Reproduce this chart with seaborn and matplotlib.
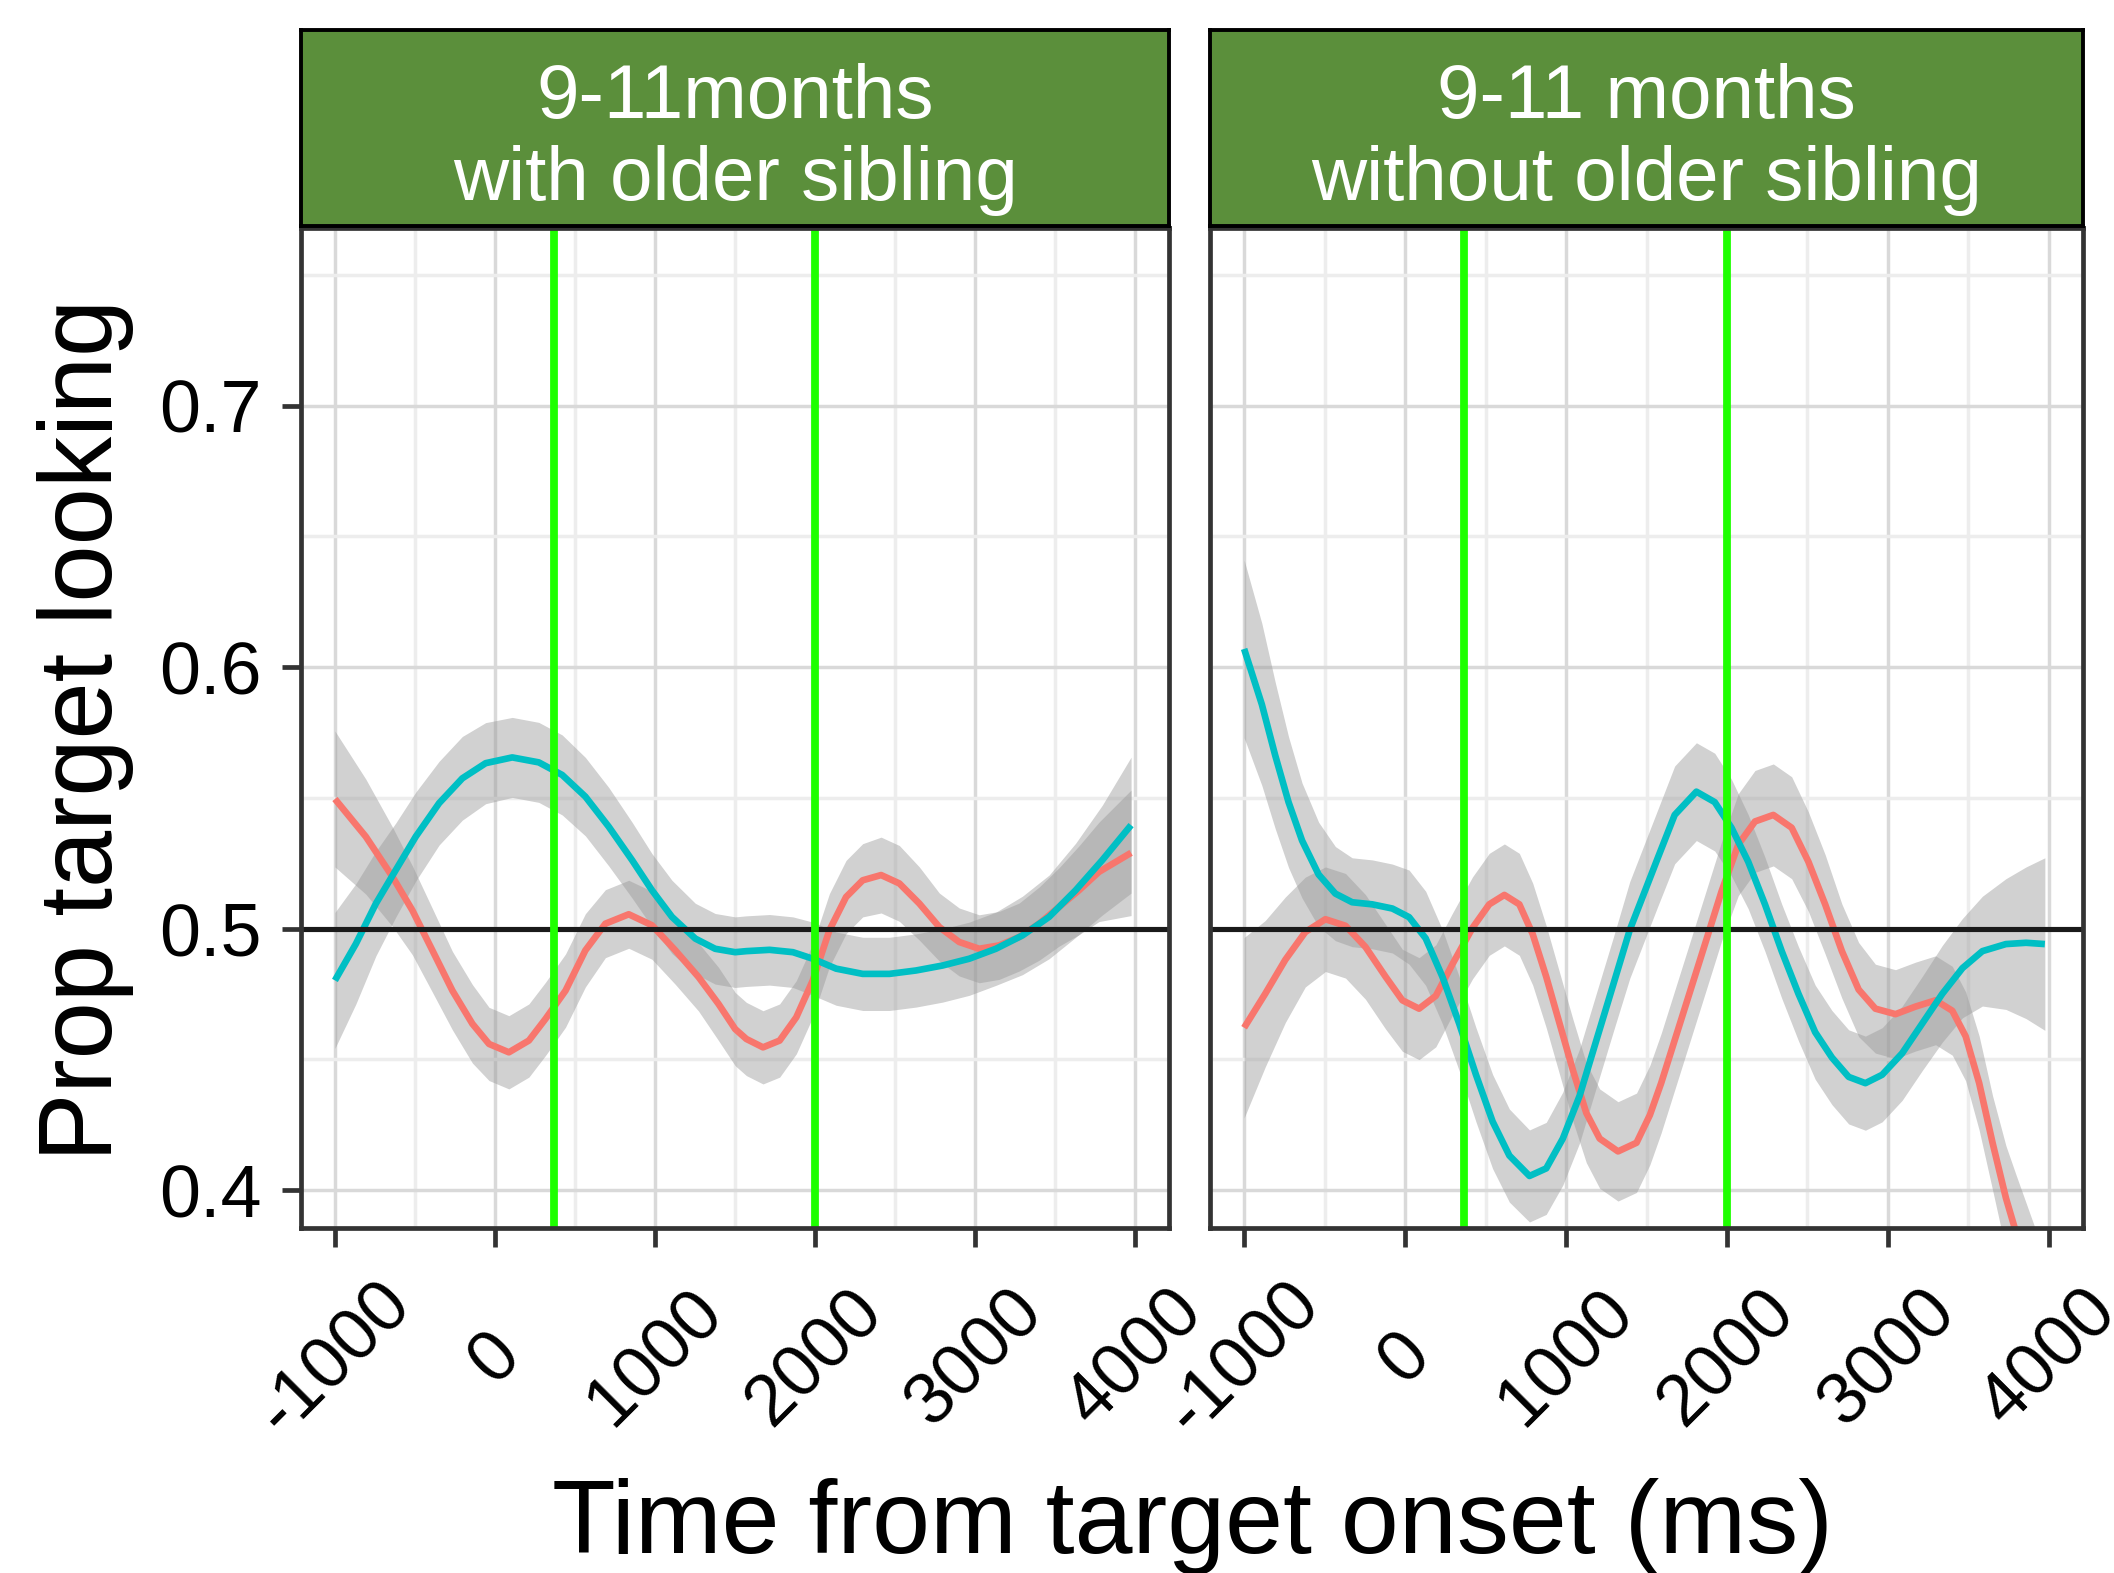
import pandas as pd
import seaborn as sns
import matplotlib.pyplot as plt

# smoothed proportion of target looking (time in ms)
# panel 1: 9-11 months with older sibling
left_red_t = [-1000, -807, -640, -516, -391, -266, -141, -37, 87, 212, 316, 441, 565, 690, 836, 981, 1127,
              1272, 1397, 1501, 1571, 1675, 1779, 1883, 1986, 2090, 2194, 2298, 2413, 2527, 2652, 2777,
              2901, 3026, 3151, 3276, 3400, 3525, 3650, 3774, 3975]
left_red_p = [0.5496, 0.5352, 0.5198, 0.507, 0.4917, 0.4763, 0.4636, 0.4559, 0.4527, 0.4572, 0.4655, 0.4763,
              0.4917, 0.5019, 0.5055, 0.5013, 0.4917, 0.4815, 0.4712, 0.4616, 0.4578, 0.4546, 0.4572, 0.4661,
              0.4802, 0.4994, 0.5121, 0.5185, 0.5205, 0.5173, 0.5096, 0.5006, 0.4949, 0.4923, 0.4936, 0.4968,
              0.5019, 0.5083, 0.5147, 0.5217, 0.529]
left_red_ci = [0.026, 0.022, 0.019, 0.017, 0.016, 0.015, 0.015, 0.014, 0.014, 0.014, 0.014, 0.014, 0.014,
               0.013, 0.013, 0.013, 0.013, 0.013, 0.014, 0.014, 0.014, 0.014, 0.014, 0.014, 0.014, 0.014,
               0.014, 0.014, 0.0145, 0.0145, 0.014, 0.013, 0.013, 0.013, 0.013, 0.013, 0.014, 0.015, 0.017,
               0.019, 0.024]

left_teal_t = [-1000, -869, -744, -620, -495, -349, -204, -58, 108, 274, 420, 565, 711, 857, 981, 1106, 1252,
               1376, 1501, 1571, 1716, 1862, 1986, 2132, 2298, 2465, 2631, 2797, 2964, 3130, 3296, 3463,
               3629, 3795, 3975]
left_teal_p = [0.4802, 0.4942, 0.5096, 0.5224, 0.5352, 0.548, 0.5575, 0.5633, 0.5655, 0.5636, 0.5588, 0.5505,
               0.539, 0.5262, 0.5147, 0.5045, 0.4962, 0.4923, 0.491, 0.4914, 0.4919, 0.491, 0.4885, 0.4847,
               0.4827, 0.4827, 0.484, 0.4859, 0.4885, 0.4923, 0.4974, 0.5045, 0.5147, 0.5262, 0.5396]
left_teal_ci = [0.026, 0.023, 0.02, 0.018, 0.017, 0.016, 0.016, 0.0155, 0.0153, 0.0153, 0.0153, 0.015, 0.015,
                0.0145, 0.014, 0.014, 0.0135, 0.0135, 0.0135, 0.0135, 0.0135, 0.0135, 0.014, 0.014, 0.014,
                0.014, 0.014, 0.014, 0.014, 0.014, 0.015, 0.016, 0.018, 0.021, 0.026]

# panel 2: 9-11 months without older sibling
right_red_t = [-1000, -869, -744, -620, -495, -370, -246, -121, -17, 87, 191, 295, 419, 523, 617, 710, 793,
               877, 960, 1043, 1126, 1209, 1323, 1438, 1521, 1591, 1716, 1841, 1966, 2070, 2174, 2288, 2402,
               2506, 2610, 2714, 2818, 2922, 3047, 3172, 3296, 3400, 3483, 3567, 3650, 3733, 3795, 3975]
right_red_p = [0.4621, 0.4751, 0.4881, 0.4987, 0.5036, 0.5011, 0.493, 0.4816, 0.4726, 0.4694, 0.4743, 0.4865,
               0.5003, 0.5093, 0.5129, 0.5093, 0.4979, 0.4816, 0.4637, 0.4458, 0.4295, 0.4197, 0.4148, 0.4181,
               0.4287, 0.4409, 0.4653, 0.4897, 0.5142, 0.5321, 0.541, 0.5435, 0.5386, 0.5256, 0.5093, 0.4914,
               0.4767, 0.4694, 0.4673, 0.4702, 0.4726, 0.4686, 0.4588, 0.4409, 0.4181, 0.397, 0.384, 0.345]
right_red_ci = [0.0345, 0.028, 0.024, 0.021, 0.02, 0.02, 0.02, 0.02, 0.0195, 0.0195, 0.0195, 0.0195, 0.0195,
                0.0195, 0.0195, 0.0195, 0.0195, 0.0195, 0.0195, 0.0195, 0.019, 0.019, 0.019, 0.019, 0.019,
                0.019, 0.019, 0.019, 0.019, 0.0195, 0.0195, 0.0195, 0.0195, 0.019, 0.019, 0.018, 0.018, 0.017,
                0.017, 0.017, 0.017, 0.017, 0.017, 0.018, 0.018, 0.02, 0.022, 0.03]

right_teal_t = [-1000, -890, -807, -724, -640, -537, -433, -329, -204, -79, 25, 128, 232, 336, 440, 544, 648,
                773, 877, 980, 1084, 1188, 1292, 1396, 1571, 1675, 1810, 1924, 2028, 2132, 2236, 2340, 2444,
                2548, 2652, 2756, 2860, 2964, 3088, 3213, 3338, 3463, 3587, 3733, 3858, 3975]
right_teal_p = [0.607, 0.5858, 0.5663, 0.5484, 0.5337, 0.5207, 0.5134, 0.5101, 0.5093, 0.5077, 0.5044, 0.4963,
                0.4816, 0.4637, 0.4442, 0.4262, 0.4132, 0.4054, 0.4083, 0.4197, 0.436, 0.4572, 0.4783, 0.4995,
                0.5272, 0.5435, 0.5524, 0.5484, 0.5386, 0.5256, 0.5093, 0.4914, 0.4751, 0.4604, 0.4507, 0.4433,
                0.4409, 0.4441, 0.4523, 0.4637, 0.4751, 0.4849, 0.4914, 0.4941, 0.4946, 0.4941]
right_teal_ci = [0.034, 0.031, 0.028, 0.025, 0.022, 0.02, 0.018, 0.017, 0.017, 0.017, 0.018, 0.018, 0.018,
                 0.018, 0.018, 0.018, 0.0178, 0.0176, 0.0176, 0.0178, 0.018, 0.018, 0.018, 0.0185, 0.0185,
                 0.0187, 0.0187, 0.0187, 0.0185, 0.018, 0.018, 0.018, 0.018, 0.018, 0.018, 0.018, 0.018,
                 0.018, 0.018, 0.018, 0.0185, 0.019, 0.021, 0.025, 0.029, 0.033]

panel_titles = ["9-11months\nwith older sibling", "9-11 months\nwithout older sibling"]
x_ticks = [-1000, 0, 1000, 2000, 3000, 4000]
x_tick_labels = ["-1000", "0", "1000", "2000", "3000", "4000"]
x_minor = [-500, 500, 1500, 2500, 3500]
y_ticks = [0.4, 0.5, 0.6, 0.7]
y_tick_labels = ["0.4", "0.5", "0.6", "0.7"]
y_minor = [0.45, 0.55, 0.65, 0.75]
window = [367, 2000]   # analysis window (green lines)
chance = 0.5


def series(panel, group, t, p, ci):
    return pd.DataFrame({"panel": panel, "group": group, "time": t, "prop": p, "ci": ci})


df = pd.concat([
    series(0, "A", left_red_t, left_red_p, left_red_ci),
    series(0, "B", left_teal_t, left_teal_p, left_teal_ci),
    series(1, "A", right_red_t, right_red_p, right_red_ci),
    series(1, "B", right_teal_t, right_teal_p, right_teal_ci),
])
palette = {"A": "#F8766D", "B": "#00BFC4"}

sns.set_theme(style="white")
plt.rcParams["font.family"] = ["Liberation Sans", "DejaVu Sans"]

W, H = 2114, 1573
fig = plt.figure(figsize=(W / 100, H / 100), dpi=100)


def box(x0, y0, x1, y1):
    # pixel box (top-left origin) -> figure fraction
    return [x0 / W, 1 - y1 / H, (x1 - x0) / W, (y1 - y0) / H]


panel_x = [(301, 1169), (1210, 2083)]

for i, (x0, x1) in enumerate(panel_x):
    ax = fig.add_axes(box(x0, 228, x1, 1228))
    sub = df[df.panel == i]
    for g, d in sub.groupby("group"):
        ax.fill_between(d.time, d.prop - d.ci, d.prop + d.ci, color="#999999", alpha=0.45, lw=0, zorder=2)
    sns.lineplot(data=sub, x="time", y="prop", hue="group", palette=palette,
                 errorbar=None, legend=False, ax=ax, zorder=3)
    for line in ax.get_lines():
        line.set_linewidth(4.8)
        line.set_solid_capstyle("butt")
        line.set_solid_joinstyle("round")
    ax.axhline(chance, color="#1a1a1a", lw=3.7, zorder=4)
    for v in window:
        ax.axvline(v, color="#1EFF00", lw=5.6, zorder=5)

    ax.set_xlim(-1212, 4212)
    ax.set_ylim(0.3855, 0.768)
    ax.set_xticks(x_ticks)
    ax.set_xticklabels(x_tick_labels)
    ax.set_xticks(x_minor, minor=True)
    ax.set_yticks(y_ticks)
    ax.set_yticklabels(y_tick_labels)
    ax.set_yticks(y_minor, minor=True)
    ax.grid(which="major", color="#D9D9D9", lw=2.5)
    ax.grid(which="minor", color="#EDEDED", lw=2.5)
    ax.set_axisbelow(True)
    ax.set_xlabel("")
    ax.set_ylabel("")
    for s in ax.spines.values():
        s.set_color("#333333")
        s.set_linewidth(3.4)
        s.set_zorder(6)

    ax.tick_params(which="minor", length=0)
    ax.tick_params(axis="x", which="major", length=13.5, width=3.4, color="#333333",
                   labelsize=52, labelcolor="black", pad=80, bottom=True)
    for lab in ax.get_xticklabels():
        lab.set_rotation(45)
        lab.set_ha("center")
        lab.set_va("center")
    if i == 0:
        ax.tick_params(axis="y", which="major", length=13.5, width=3.4, color="#333333",
                       labelsize=53, labelcolor="black", pad=15, left=True)
    else:
        ax.tick_params(axis="y", left=False, labelleft=False)

    # facet strip
    sax = fig.add_axes(box(x0, 30, x1, 226))
    sax.set_facecolor("#5B8F3B")
    sax.set_xticks([])
    sax.set_yticks([])
    for s in sax.spines.values():
        s.set_color("black")
        s.set_linewidth(2.8)
    sax.text(0.5, 0.44, panel_titles[i], transform=sax.transAxes, ha="center", va="center",
             color="white", fontsize=55, linespacing=1.2)

fig.text(1192 / W, 1 - 1553 / H, "Time from target onset (ms)", ha="center", va="baseline",
         fontsize=75, color="black")
fig.text(86 / W, 1 - 730 / H, "Prop target looking", ha="center", va="center", rotation=90,
         fontsize=74, color="black")

fig.savefig("out.png", dpi=100)
